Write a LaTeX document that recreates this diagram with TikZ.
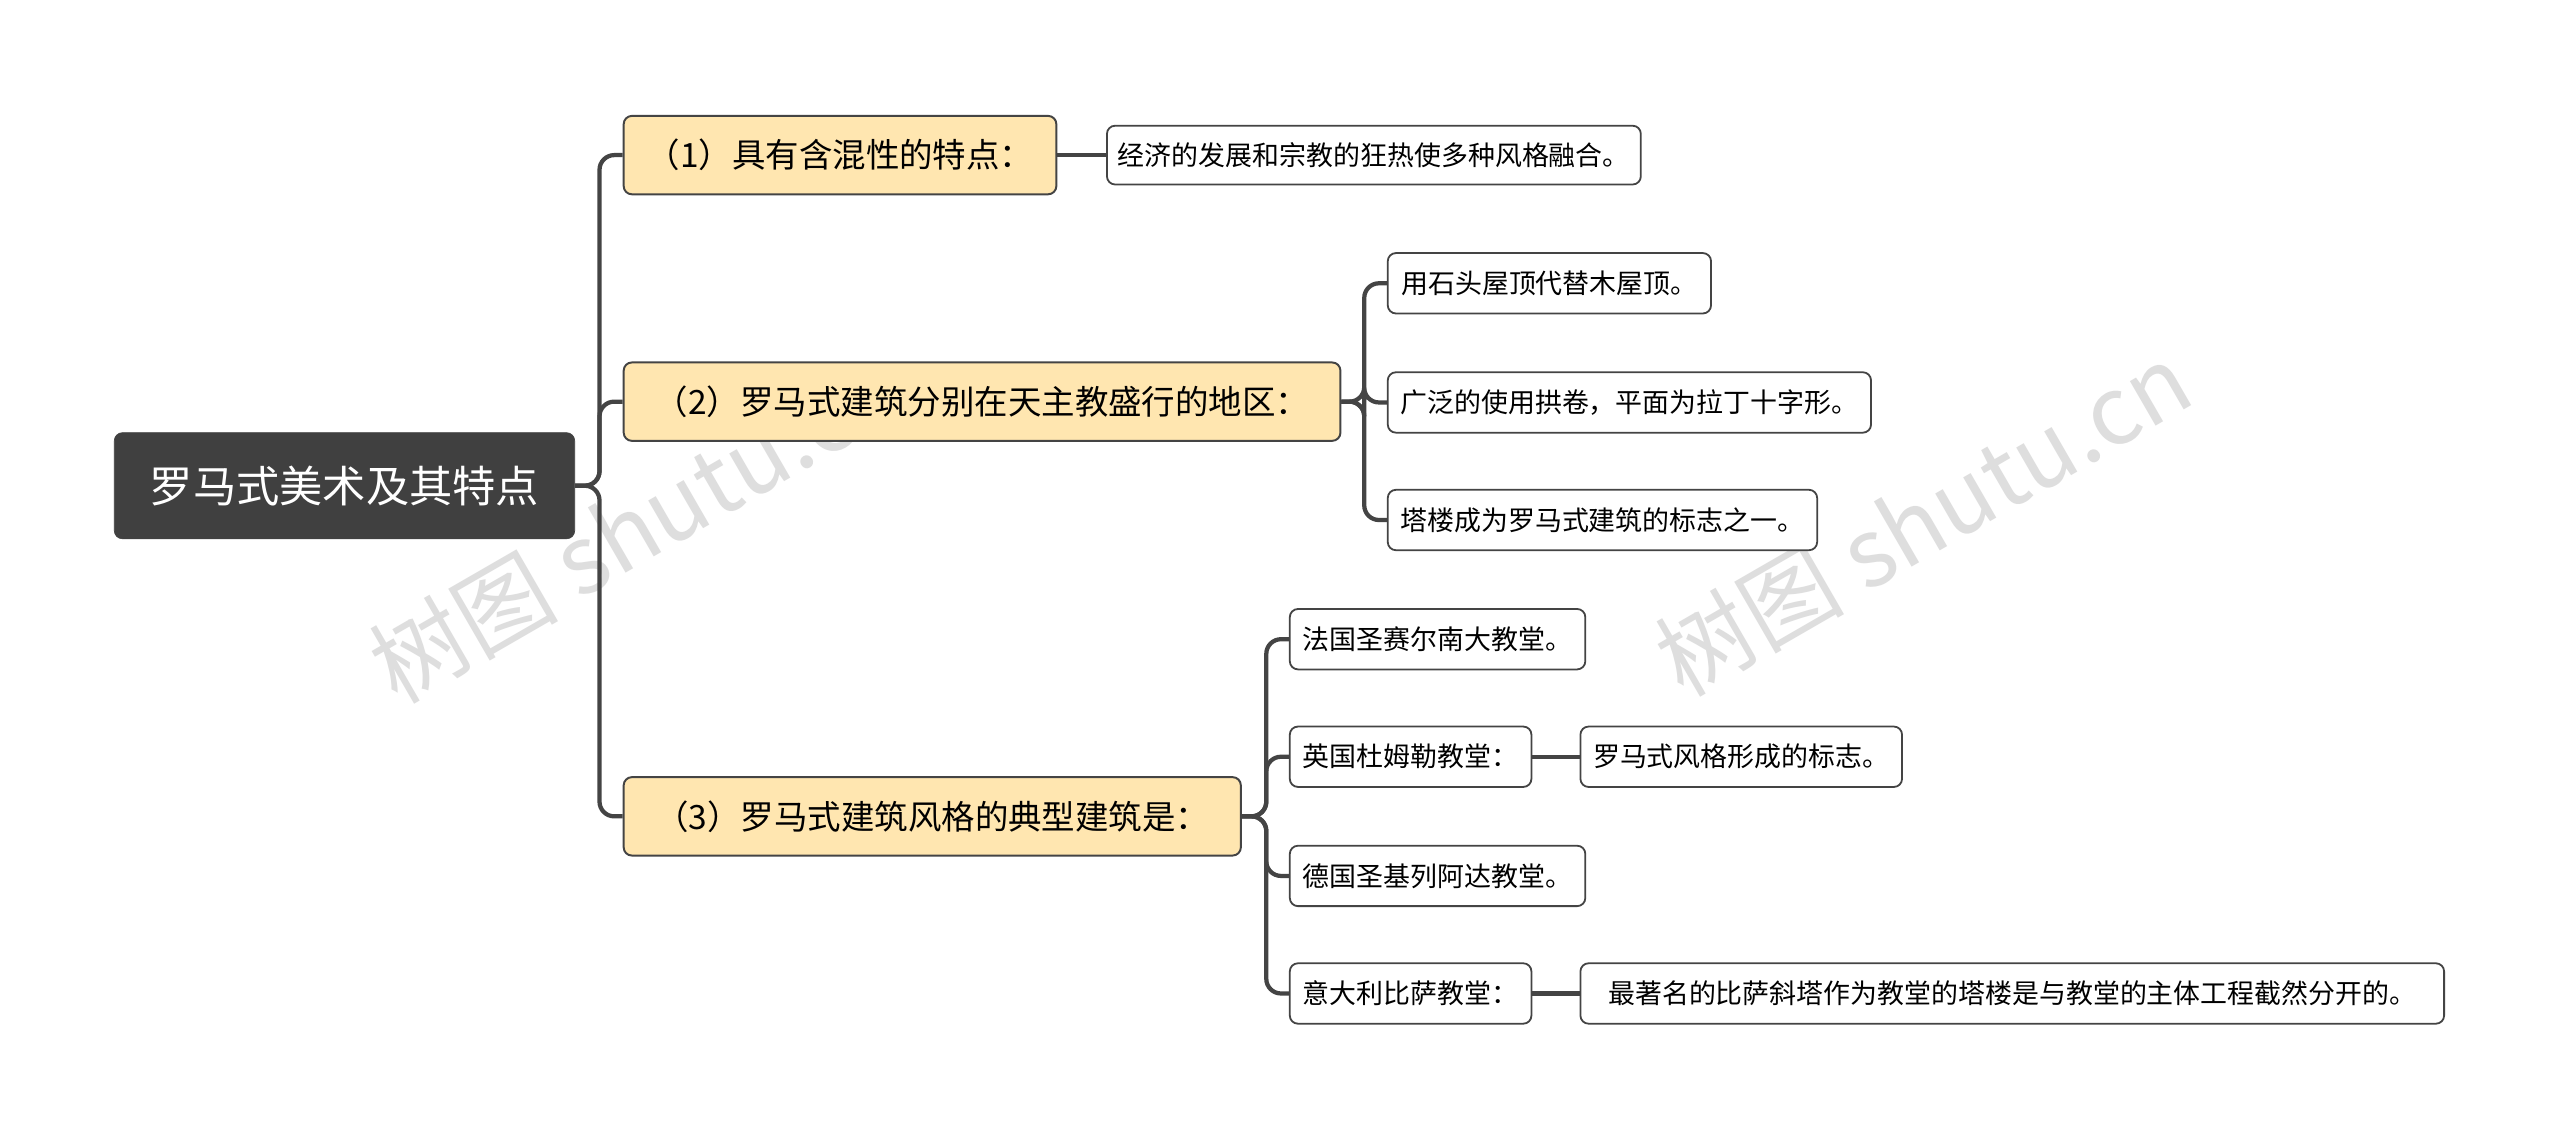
\documentclass[tikz,border=0pt]{standalone}
\usepackage{fontspec}
\newfontfamily\cjk{Noto Sans CJK SC}
\definecolor{rootc}{HTML}{404040}
\definecolor{l1fill}{HTML}{FFE6B0}
\definecolor{linec}{HTML}{444444}
\begin{document}
\begin{tikzpicture}[x=1pt,y=-1pt,
  rootbox/.style={draw=rootc,fill=rootc,rounded corners=5pt,text=white,font=\cjk\fontsize{26.5}{28}\selectfont,inner sep=0pt},
  lone/.style={draw=linec,line width=1.2pt,fill=l1fill,rounded corners=5pt,font=\cjk\fontsize{20.5}{22}\selectfont,inner sep=0pt},
  leaf/.style={draw=linec,line width=1.1pt,fill=white,rounded corners=5pt,font=\cjk\fontsize{16.5}{18}\selectfont,inner sep=0pt},
  conn/.style={draw=linec,line width=2.6pt,rounded corners=9pt},
  wm/.style={text=black!13,font=\cjk\fontsize{58}{60}\selectfont,rotate=30}]
\useasboundingbox (0,0) rectangle (1568,697);
\fill[white] (0,0) rectangle (1568,697);
\node[wm] at (390,322) {树图 shutu.cn};
\node[wm] at (1178,318) {树图 shutu.cn};
\node[rootbox,minimum width=282pt,minimum height=65pt] (root) at (211,297.5) {罗马式美术及其特点};
\node[lone,minimum width=265pt,minimum height=48pt] (n1) at (514.5,95) {（1）具有含混性的特点：};
\node[lone,minimum width=439pt,minimum height=48pt] (n2) at (601.5,246) {（2）罗马式建筑分别在天主教盛行的地区：};
\node[lone,minimum width=378pt,minimum height=48pt] (n3) at (571,500) {（3）罗马式建筑风格的典型建筑是：};
\node[leaf,minimum width=327pt,minimum height=36pt] (a) at (841.5,95) {经济的发展和宗教的狂热使多种风格融合。};
\node[leaf,minimum width=198pt,minimum height=37pt] (b1) at (949,173.5) {用石头屋顶代替木屋顶。};
\node[leaf,minimum width=296pt,minimum height=37pt] (b2) at (998,246.5) {广泛的使用拱卷，平面为拉丁十字形。};
\node[leaf,minimum width=263pt,minimum height=37pt] (b3) at (981.5,318.5) {塔楼成为罗马式建筑的标志之一。};
\node[leaf,minimum width=181pt,minimum height=37pt] (c1) at (880.5,391.5) {法国圣赛尔南大教堂。};
\node[leaf,minimum width=148pt,minimum height=37pt] (c2) at (864,463.5) {英国杜姆勒教堂：};
\node[leaf,minimum width=197pt,minimum height=37pt] (c2a) at (1066.5,463.5) {罗马式风格形成的标志。};
\node[leaf,minimum width=181pt,minimum height=37pt] (c3) at (880.5,536.5) {德国圣基列阿达教堂。};
\node[leaf,minimum width=148pt,minimum height=37pt] (c4) at (864,608.5) {意大利比萨教堂：};
\node[leaf,minimum width=529pt,minimum height=37pt] (c4a) at (1232.5,608.5) {最著名的比萨斜塔作为教堂的塔楼是与教堂的主体工程截然分开的。};
\foreach \t in {n1,n2,n3} \draw[conn] (root.east) -- ++(15,0) |- (\t.west);
\foreach \t in {b1,b2,b3} \draw[conn] (n2.east) -- ++(14,0) |- (\t.west);
\foreach \t in {c1,c2,c3,c4} \draw[conn] (n3.east) -- ++(15,0) |- (\t.west);
\draw[conn] (n1.east) -- (a.west);
\draw[conn] (c2.east) -- (c2a.west);
\draw[conn] (c4.east) -- (c4a.west);
\end{tikzpicture}
\end{document}
